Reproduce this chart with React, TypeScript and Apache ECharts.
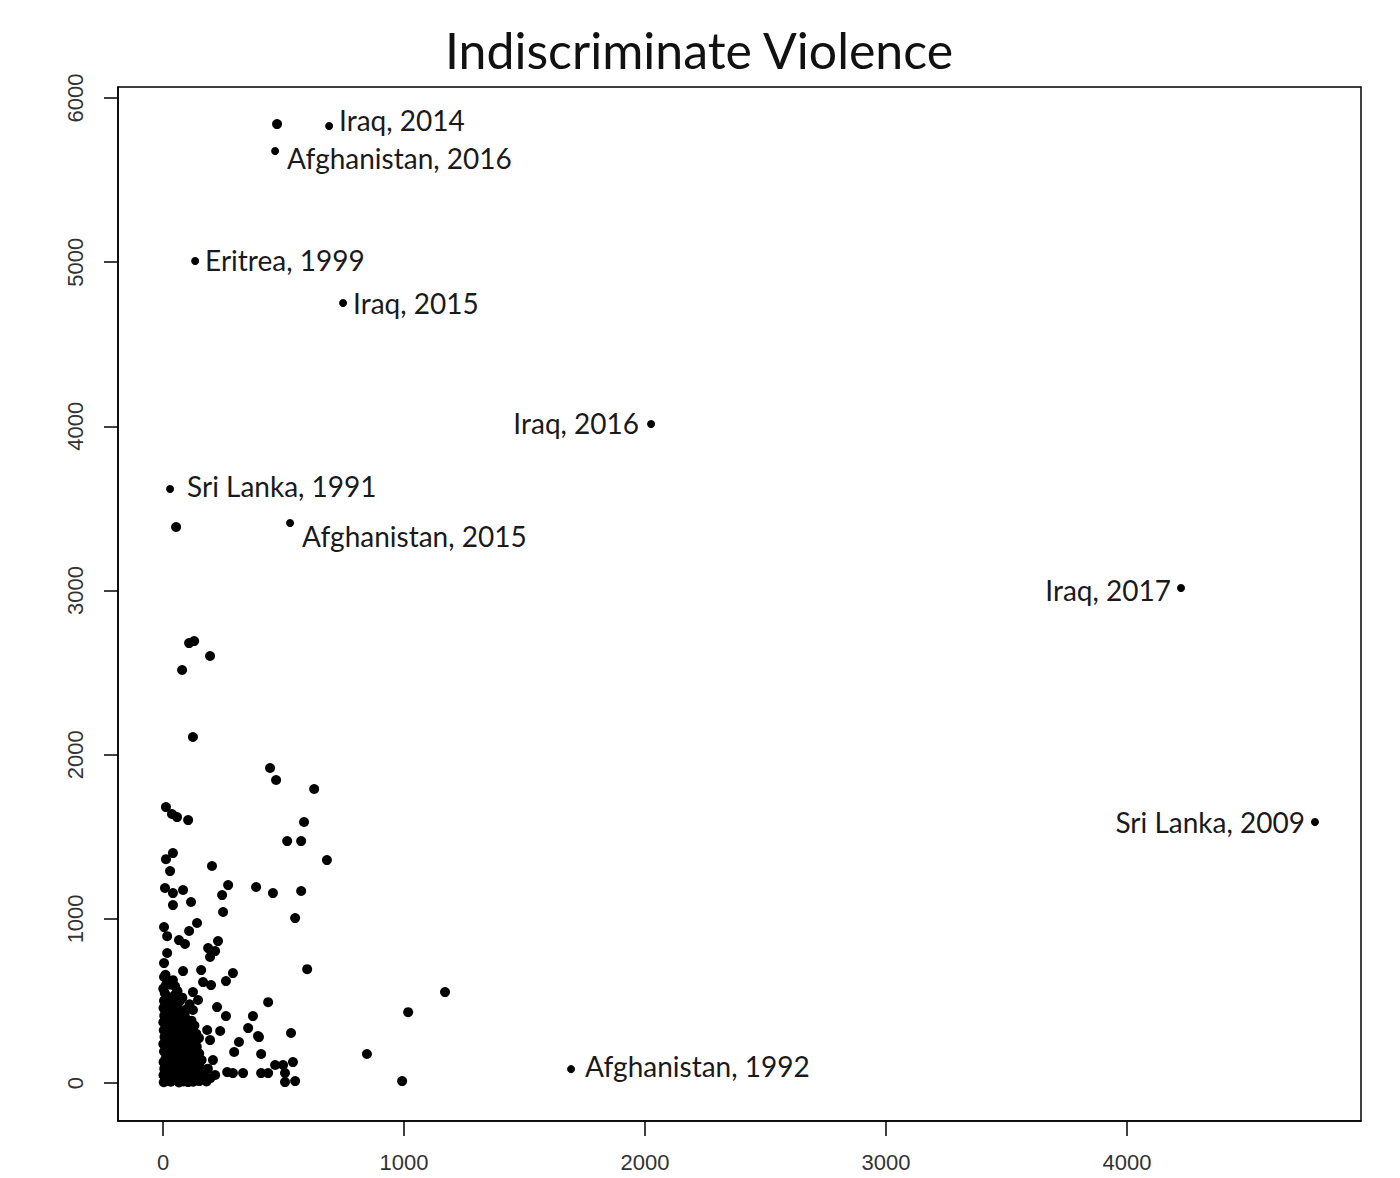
import React, { useEffect, useRef } from "react";
import * as echarts from "echarts";

const TITLE = "Indiscriminate Violence";
const X_TICKS = [0, 1000, 2000, 3000, 4000];
const Y_TICKS = [0, 1000, 2000, 3000, 4000, 5000, 6000];

// Annotated cases
const labeledNames = [
  "Iraq, 2014",
  "Afghanistan, 2016",
  "Eritrea, 1999",
  "Iraq, 2015",
  "Iraq, 2016",
  "Sri Lanka, 1991",
  "Afghanistan, 2015",
  "Iraq, 2017",
  "Sri Lanka, 2009",
  "Afghanistan, 1992",
];
const labeledX = [689, 465, 133, 747, 2025, 29, 527, 4224, 4780, 1693];
const labeledY = [5829, 5677, 5007, 4751, 4014, 3618, 3411, 3015, 1590, 85];

// Unlabelled points outside the main cluster
const outlierPoints: [number, number][] = [
  [473, 5841], [54, 3387], [108, 2680], [129, 2692], [79, 2516], [195, 2601],
  [124, 2108], [444, 1919], [469, 1846], [627, 1791], [585, 1590], [515, 1474],
  [573, 1474], [680, 1358], [386, 1194], [456, 1157], [573, 1170], [548, 1005],
  [598, 694], [1170, 554], [1017, 432], [436, 493], [373, 408], [398, 280],
  [531, 305], [407, 177], [846, 177], [992, 12], [407, 61], [436, 61], [465, 110],
  [498, 110], [539, 128], [506, 61], [506, 6], [548, 12],
];

// Points in the loose part of the cluster
const midPoints: [number, number][] = [
  [12, 1681], [37, 1639], [58, 1620], [104, 1602], [41, 1401], [12, 1364],
  [29, 1291], [203, 1322], [8, 1188], [41, 1157], [83, 1176], [41, 1084],
  [116, 1103], [245, 1145], [270, 1206], [249, 1042], [4, 950], [17, 895],
  [141, 975], [108, 926], [66, 871], [91, 847], [228, 865], [187, 822],
  [216, 804], [195, 768], [17, 792], [4, 731], [83, 682], [158, 688], [290, 670],
  [261, 621], [166, 615], [199, 597], [4, 646], [41, 627], [124, 554], [145, 506],
  [224, 463], [124, 445], [261, 408], [353, 335], [394, 286], [237, 317],
  [183, 323], [149, 274], [195, 262], [315, 250], [295, 189], [207, 140],
  [166, 37], [216, 49], [266, 67], [290, 61], [332, 61],
];

// Dense block near the origin
const clusterPoints: [number, number][] = [
  [3, 5], [8, 22], [2, 48], [14, 64], [5, 88], [18, 105], [2, 128], [10, 146],
  [21, 170], [4, 192], [12, 215], [1, 238], [16, 256], [6, 281], [20, 300],
  [3, 322], [11, 344], [1, 370], [17, 388], [5, 410], [9, 436], [2, 458],
  [14, 476], [4, 502], [19, 520], [7, 548], [1, 575], [12, 598],
  [32, 8], [41, 26], [28, 44], [46, 60], [35, 82], [52, 97], [30, 118], [44, 137],
  [38, 158], [55, 176], [29, 196], [47, 214], [36, 233], [58, 250], [31, 272],
  [49, 292], [40, 313], [57, 331], [33, 352], [45, 372], [38, 394], [54, 414],
  [30, 437], [48, 456], [36, 478], [44, 500], [28, 522], [51, 540],
  [66, 4], [78, 18], [63, 35], [86, 52], [70, 70], [92, 86], [65, 104], [81, 122],
  [74, 141], [96, 160], [62, 180], [85, 198], [71, 218], [90, 236], [67, 258],
  [79, 278], [88, 298], [64, 320], [76, 340], [92, 362], [68, 384], [83, 404],
  [72, 430], [95, 447],
  [104, 6], [118, 20], [132, 38], [108, 55], [142, 72], [122, 90], [101, 110],
  [136, 126], [115, 146], [105, 168], [128, 186], [110, 206], [140, 222],
  [102, 248], [120, 270], [112, 296], [106, 322], [130, 350],
  [150, 12], [166, 28], [158, 48], [180, 10], [172, 62], [196, 30], [186, 88],
  [152, 98],
  [125, 8], [140, 30], [95, 25], [112, 40], [128, 60], [98, 75], [145, 100],
  [118, 115], [160, 140], [95, 130], [130, 160], [150, 180], [98, 215],
  [125, 235], [95, 280], [138, 300], [100, 350], [118, 380], [90, 410],
  [110, 480], [60, 470], [20, 620], [60, 560], [80, 520], [10, 660], [30, 600],
  [50, 590], [22, 12], [55, 40], [85, 10], [24, 88], [58, 120], [20, 230],
  [60, 290], [22, 400], [70, 500],
];

// label placement for each annotated case: side, and [dx, dy]
const labelPlacement: Record<string, { pos: string; off: [number, number] }> = {
  "Iraq, 2014": { pos: "right", off: [0, -6] },
  "Afghanistan, 2016": { pos: "right", off: [2, 7] },
  "Eritrea, 1999": { pos: "right", off: [0, -1] },
  "Iraq, 2015": { pos: "right", off: [0, 0] },
  "Iraq, 2016": { pos: "left", off: [-2, -1] },
  "Sri Lanka, 1991": { pos: "right", off: [7, -3] },
  "Afghanistan, 2015": { pos: "right", off: [2, 13] },
  "Iraq, 2017": { pos: "left", off: [0, 2] },
  "Sri Lanka, 2009": { pos: "left", off: [0, 0] },
  "Afghanistan, 1992": { pos: "right", off: [4, -3] },
};

const plainNumber = (v: number) => String(v);

export default function App() {
  const ref = useRef<HTMLDivElement>(null);
  useEffect(() => {
    if (!ref.current) return;
    const chart = echarts.init(ref.current, null, { renderer: "svg" });
    const labeledData = labeledNames.map((n, i) => {
      const p = labelPlacement[n];
      return {
        value: [labeledX[i], labeledY[i]],
        name: n,
        label: {
          show: true,
          formatter: n,
          position: p.pos,
          offset: p.off,
          distance: 6,
          fontFamily: "Lato",
          fontSize: 28,
          color: "#1a1a1a",
        },
      };
    });
    const allPoints = [...outlierPoints, ...midPoints, ...clusterPoints];
    chart.setOption({
      animation: false,
      backgroundColor: "#ffffff",
      title: {
        text: TITLE,
        left: 694,
        top: 20,
        textAlign: "center",
        textStyle: {
          fontFamily: "Lato",
          fontSize: 50,
          fontWeight: "normal",
          color: "#111",
        },
      },
      grid: {
        left: 118,
        right: 39,
        top: 87,
        bottom: 57,
        show: true,
        borderColor: "#000",
        borderWidth: 1.5,
        backgroundColor: "transparent",
      },
      xAxis: {
        type: "value",
        min: -187,
        max: 4971,
        splitLine: { show: false },
        axisLine: { show: true, onZero: false, lineStyle: { color: "#000", width: 1.5 } },
        axisTick: {
          show: true,
          customValues: X_TICKS,
          length: 15,
          lineStyle: { color: "#000", width: 1.5 },
        },
        axisLabel: {
          customValues: X_TICKS,
          formatter: plainNumber,
          margin: 30,
          fontFamily: "Liberation Sans",
          fontSize: 22,
          color: "#333",
        },
      },
      yAxis: {
        type: "value",
        min: -231,
        max: 6067,
        splitLine: { show: false },
        axisLine: { show: true, onZero: false, lineStyle: { color: "#000", width: 1.5 } },
        axisTick: {
          show: true,
          customValues: Y_TICKS,
          length: 14,
          lineStyle: { color: "#000", width: 1.5 },
        },
        axisLabel: {
          customValues: Y_TICKS,
          formatter: plainNumber,
          rotate: 90,
          margin: 32,
          fontFamily: "Liberation Sans",
          fontSize: 22,
          color: "#333",
        },
      },
      series: [
        {
          type: "scatter",
          data: allPoints,
          symbol: "circle",
          symbolSize: 10,
          itemStyle: { color: "#000", opacity: 1 },
          silent: true,
        },
        {
          type: "scatter",
          data: labeledData,
          symbol: "circle",
          symbolSize: 8,
          itemStyle: { color: "#000", opacity: 1 },
          silent: true,
        },
      ],
    });
    return () => chart.dispose();
  }, []);
  return (
    <div
      ref={ref}
      style={{ position: "fixed", left: 0, top: 0, width: 1400, height: 1178, background: "#fff" }}
    />
  );
}
